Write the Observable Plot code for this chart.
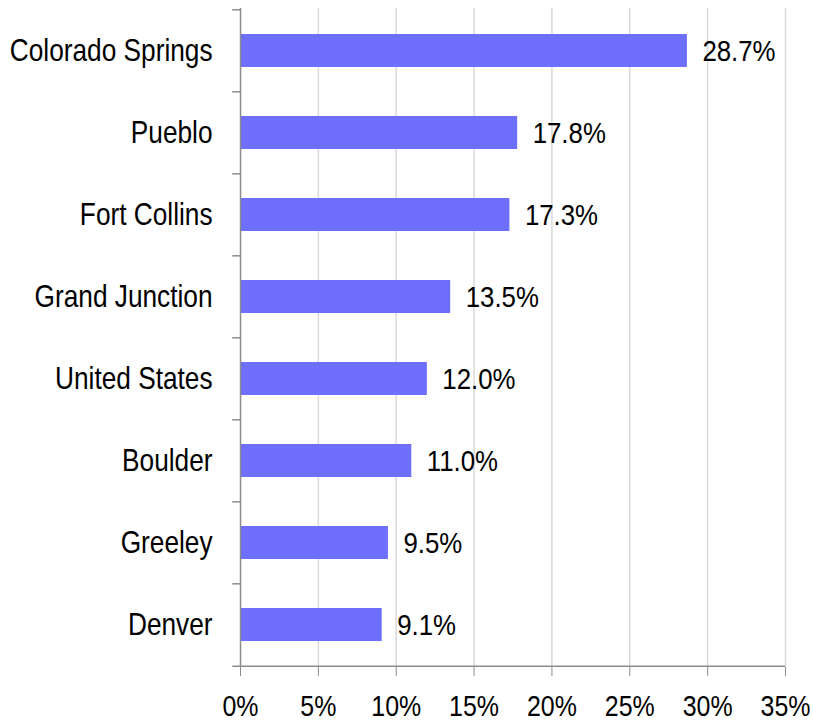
<!DOCTYPE html>
<html>
<head>
<meta charset="utf-8">
<script src="https://cdn.jsdelivr.net/npm/d3@7"></script>
<script src="https://cdn.jsdelivr.net/npm/@observablehq/plot@0.6"></script>
<style>
  html, body { margin: 0; padding: 0; background: #fff; }
  #chart svg { display: block; }
</style>
</head>
<body>
<div id="chart"></div>
<script>
const cities = ["Colorado Springs", "Pueblo", "Fort Collins", "Grand Junction", "United States", "Boulder", "Greeley", "Denver"];
const values = [28.7, 17.8, 17.3, 13.5, 12.0, 11.0, 9.5, 9.1];
const xTicks = [0, 5, 10, 15, 20, 25, 30, 35];

const data = cities.map((c, i) => ({city: c, value: values[i]}));
const fmt = d => d + "%";
const axisGray = "#8c8c8c";
const font = "'Liberation Sans', Arial, sans-serif";

const H = 722, mt = 8, mb = 55;
const halfStep = (H - mt - mb) / cities.length / 2;

const chart = Plot.plot({
  width: 813,
  height: H,
  marginLeft: 240,
  marginRight: 28,
  marginTop: mt,
  marginBottom: mb,
  style: {fontFamily: font, fontSize: "30px", color: "#000", background: "#fff"},
  x: {domain: [0, 35]},
  y: {domain: cities, paddingInner: 0.6, paddingOuter: 0.3},
  marks: [
    Plot.ruleX(xTicks.slice(1), {stroke: "#d9d9d9", strokeWidth: 1.5}),
    Plot.barX(data, {x: "value", y: "city", fill: "#6e6eff"}),
    Plot.ruleX([0], {stroke: axisGray, strokeWidth: 1.5}),
    Plot.ruleY(cities, {y: d => d, x1: -0.5, x2: 0, dy: -halfStep, stroke: axisGray, strokeWidth: 1.5}),
    Plot.ruleY([cities[cities.length - 1]], {y: d => d, x1: -0.5, x2: 35, dy: halfStep, stroke: axisGray, strokeWidth: 1.5}),
    Plot.axisX({ticks: xTicks, tickFormat: fmt, tickSize: 9, tickPadding: 19, stroke: axisGray, fill: "#000", fontSize: 29, label: null}),
    Plot.axisY({tickSize: 0, tickPadding: 28, fill: "#000", fontSize: 30.5, label: null}),
    Plot.text(data, {x: "value", y: "city", text: d => d.value.toFixed(1) + "%", textAnchor: "start", dx: 15, fontSize: 30, fill: "#000"})
  ]
});
document.getElementById("chart").appendChild(chart);

// Emulate a narrow (Arial Narrow–like) face by horizontally condensing glyphs
chart.querySelectorAll("text").forEach(t => {
  const targets = t.querySelectorAll("tspan").length ? t.querySelectorAll("tspan") : [t];
  targets.forEach(el => {
    const w = el.getComputedTextLength();
    if (w > 0) {
      el.setAttribute("textLength", (w * 0.86).toFixed(2));
      el.setAttribute("lengthAdjust", "spacingAndGlyphs");
    }
  });
});
</script>
</body>
</html>
